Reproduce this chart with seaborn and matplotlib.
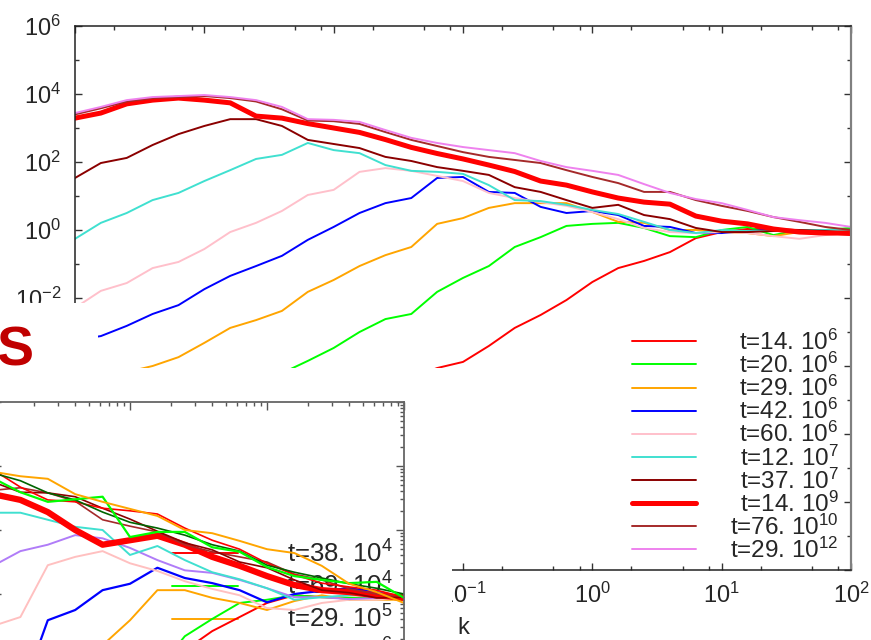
import numpy as np
import pandas as pd
import matplotlib
matplotlib.use("Agg")
import matplotlib.pyplot as plt
import matplotlib.ticker as mticker
from matplotlib.patches import Rectangle
import seaborn as sns

# ---------------- data (log10 values) ----------------
K_EXP = [-4.0, -3.8, -3.6, -3.4, -3.2, -3.0, -2.8, -2.6, -2.4, -2.2, -2.0,
         -1.8, -1.6, -1.4, -1.2, -1.0, -0.8, -0.6, -0.4, -0.2, 0.0,
         0.2, 0.4, 0.6, 0.8, 1.0, 1.2, 1.4, 1.6, 1.8, 2.0]

N = None
E_14E6 = [N, N, N, N, N, N, N, N, N, N, N, N, N, -4.35, -4.06, -3.88, -3.41,
          -2.88, -2.50, -2.06, -1.53, -1.12, -0.91, -0.65, -0.24, -0.06, 0.03,
          0.03, 0.0, -0.09, -0.15]
E_20E6 = [N, N, N, N, N, N, N, N, -4.21, -3.85, -3.47, -3.0, -2.62, -2.47,
          -1.82, -1.41, -1.06, -0.50, -0.21, 0.12, 0.18, 0.21, 0.06, -0.18,
          -0.21, 0.0, 0.09, -0.15, 0.0, 0.0, 0.06]
E_29E6 = [N, N, -4.18, -4.0, -3.74, -3.32, -2.88, -2.65, -2.38, -1.82, -1.47,
          -1.06, -0.74, -0.50, 0.18, 0.35, 0.65, 0.79, 0.79, 0.79, 0.53, 0.24,
          0.21, 0.0, 0.0, -0.06, -0.09, -0.18, -0.06, 0.0, 0.0]
E_42E6 = [-3.24, -3.12, -2.82, -2.47, -2.21, -1.74, -1.35, -1.06, -0.76, -0.29,
          0.09, 0.50, 0.79, 0.94, 1.53, 1.56, 1.12, 1.09, 0.68, 0.50, 0.56,
          0.44, 0.12, 0.09, -0.09, -0.09, -0.03, 0.0, 0.0, -0.06, -0.09]
E_60E6 = [-2.29, -1.79, -1.56, -1.12, -0.94, -0.56, -0.06, 0.21, 0.56, 1.03,
          1.18, 1.71, 1.82, 1.74, 1.59, 1.44, 1.09, 0.94, 0.82, 0.71, 0.53,
          0.32, 0.06, -0.06, -0.09, -0.06, -0.09, -0.18, -0.26, -0.15, -0.09]
E_12E7 = [-0.26, 0.21, 0.50, 0.88, 1.09, 1.44, 1.76, 2.09, 2.21, 2.56, 2.35,
          2.26, 1.91, 1.74, 1.71, 1.65, 1.32, 0.88, 0.85, 0.74, 0.59, 0.47,
          0.24, 0.0, -0.09, 0.0, -0.03, -0.03, 0.0, 0.0, 0.0]
E_37E7 = [1.53, 1.97, 2.12, 2.50, 2.82, 3.06, 3.26, 3.26, 3.06, 2.65, 2.53,
          2.41, 2.15, 2.03, 1.85, 1.74, 1.62, 1.26, 1.12, 0.88, 0.65, 0.74,
          0.44, 0.32, 0.06, -0.06, -0.06, -0.03, 0.0, -0.03, -0.09]
E_14E9 = [3.29, 3.44, 3.71, 3.82, 3.88, 3.82, 3.74, 3.35, 3.29, 3.13, 3.0,
          2.87, 2.66, 2.43, 2.25, 2.09, 1.91, 1.72, 1.44, 1.32, 1.12, 0.94,
          0.82, 0.76, 0.41, 0.26, 0.18, 0.03, -0.06, -0.09, -0.09]
E_76E10 = [3.40, 3.58, 3.78, 3.88, 3.91, 3.94, 3.88, 3.78, 3.55, 3.22, 3.20,
           3.12, 2.88, 2.65, 2.47, 2.29, 2.15, 2.06, 1.97, 1.76, 1.56, 1.38,
           1.12, 1.12, 0.88, 0.71, 0.56, 0.38, 0.24, 0.09, 0.0]
E_29E12 = [3.44, 3.62, 3.82, 3.91, 3.94, 3.97, 3.91, 3.82, 3.62, 3.26, 3.24,
           3.18, 2.94, 2.71, 2.56, 2.44, 2.35, 2.26, 2.03, 1.85, 1.74, 1.62,
           1.35, 1.09, 0.91, 0.79, 0.59, 0.38, 0.29, 0.21, 0.09]

MAIN_LABELS = ["t=14. $\\mathregular{10^{6}}$", "t=20. $\\mathregular{10^{6}}$",
               "t=29. $\\mathregular{10^{6}}$", "t=42. $\\mathregular{10^{6}}$",
               "t=60. $\\mathregular{10^{6}}$", "t=12. $\\mathregular{10^{7}}$",
               "t=37. $\\mathregular{10^{7}}$", "t=14. $\\mathregular{10^{9}}$",
               "t=76. $\\mathregular{10^{10}}$", "t=29. $\\mathregular{10^{12}}$"]
MAIN_SERIES = [E_14E6, E_20E6, E_29E6, E_42E6, E_60E6, E_12E7, E_37E7,
               E_14E9, E_76E10, E_29E12]
MAIN_COLORS = ["#ff0000", "#00ff00", "#ffa500", "#0000ff", "#ffc0cb",
               "#40e0d0", "#8b0000", "#ff0000", "#a52a2a", "#ee82ee"]
MAIN_WIDTHS = [1.4, 1.4, 1.4, 1.4, 1.4, 1.4, 1.4, 3.6, 1.4, 1.4]

# inset (second panel) data
KI_EXP = [-1.0, -0.8, -0.6, -0.4, -0.2, 0.0, 0.2, 0.4, 0.6, 0.8, 1.0,
          1.2, 1.4, 1.6, 1.8, 2.0]
I_RED_LOW = [N, N, N, N, N, N, N, -2.88, -2.58, -2.36, -2.14, -2.02, -2.05,
             -2.06, -2.06, -2.06]
I_GREEN_LOW = [N, N, N, N, N, N, -3.19, -2.66, -2.39, -2.14, -2.09, -2.02,
               -2.05, -2.06, -2.06, -2.06]
I_ORANGE_LOW = [N, N, N, -3.34, -2.80, -2.41, -1.94, -1.94, -2.06, -2.14,
                -2.25, -2.11, -2.02, -2.09, -2.09, -2.09]
I_BLUE = [N, -3.6, -2.41, -2.25, -1.94, -1.84, -1.59, -1.75, -1.83, -1.94,
          -2.13, -2.0, -1.95, -1.91, -1.97, -2.06]
I_PINK = [-2.5, -2.36, -1.55, -1.42, -1.33, -1.52, -1.64, -1.80, -1.92, -2.02,
          -2.22, -2.25, -2.14, -2.09, -2.09, -2.06]
I_PURPLE = [-1.56, -1.33, -1.23, -1.08, -1.13, -1.28, -1.47, -1.63, -1.67,
            -1.78, -1.91, -2.05, -2.05, -2.08, -2.06, -2.06]
I_CYAN = [-0.73, -0.73, -0.84, -0.95, -1.0, -1.39, -1.25, -1.47, -1.66, -1.77,
          -1.91, -2.09, -2.05, -2.02, -1.98, -2.06]
I_RED_THICK = [-0.44, -0.53, -0.72, -1.0, -1.23, -1.16, -1.09, -1.23, -1.42,
               -1.56, -1.72, -1.86, -1.94, -1.97, -2.02, -2.06]
I_BROWN = [-0.38, -0.34, -0.42, -0.55, -0.84, -0.94, -1.03, -1.23, -1.34,
           -1.42, -1.50, -1.69, -1.78, -1.92, -2.0, -2.05]
I_DARKRED = [-0.25, -0.41, -0.42, -0.48, -0.66, -0.83, -1.02, -1.20, -1.31,
             -1.50, -1.59, -1.78, -1.94, -1.98, -2.06, -2.05]
I_RED_UP = [-0.06, -0.33, -0.53, -0.56, -0.66, -0.70, -0.75, -0.97, -1.16,
            -1.30, -1.52, -1.70, -1.83, -1.89, -1.94, -2.05]
I_DARKGREEN = [-0.11, -0.23, -0.42, -0.53, -0.72, -0.88, -0.97, -1.08, -1.23,
               -1.33, -1.55, -1.66, -1.75, -1.84, -1.91, -2.0]
I_GREEN_UP = [-0.19, -0.41, -0.56, -0.52, -0.48, -1.11, -1.03, -1.03, -1.27,
              -1.34, -1.58, -1.72, -1.78, -1.83, -1.81, -2.06]
I_ORANGE_UP = [-0.09, -0.16, -0.20, -0.44, -0.56, -0.67, -0.78, -1.0, -1.05,
               -1.17, -1.30, -1.36, -1.56, -1.84, -1.97, -2.14]

INSET_SERIES = [I_RED_LOW, I_GREEN_LOW, I_ORANGE_LOW, I_BLUE, I_PINK,
                I_PURPLE, I_CYAN, I_RED_THICK, I_BROWN, I_DARKRED, I_RED_UP,
                I_DARKGREEN, I_GREEN_UP, I_ORANGE_UP]
INSET_LABELS = ["t=38. $\\mathregular{10^{4}}$", "t=69. $\\mathregular{10^{4}}$",
                "t=29. $\\mathregular{10^{5}}$", "t=16. $\\mathregular{10^{6}}$",
                None, None, None, None, None, None, None, None, None, None]
INSET_COLORS = ["#ff0000", "#00ff00", "#ffa500", "#0000ff", "#ffc0c0",
                "#b07cf8", "#40e0d0", "#ff0000", "#a52a2a", "#8b0000",
                "#ff0000", "#006400", "#00ff00", "#ffa500"]
INSET_WIDTHS = [1.4, 1.4, 1.4, 1.6, 1.4, 1.4, 1.4, 4.5, 1.2, 1.2, 1.2, 1.2,
                1.6, 1.4]

# ---------------- style ----------------
sns.set_style("ticks")
plt.rcParams["font.family"] = ["Liberation Sans", "DejaVu Sans"]
plt.rcParams["mathtext.fontset"] = "custom"
plt.rcParams["mathtext.rm"] = "Liberation Sans"
plt.rcParams["mathtext.it"] = "Liberation Sans:italic"
plt.rcParams["mathtext.bf"] = "Liberation Sans:bold"

W, H = 871, 640
fig = plt.figure(figsize=(W / 100, H / 100), dpi=100)
fig.patch.set_facecolor("white")


def draw_series(ax, kexp, eexp, color, lw, label):
    df = pd.DataFrame({
        "k": [10.0 ** a for a in kexp],
        "E": [np.nan if b is None else 10.0 ** b for b in eexp],
    }).dropna()
    sns.lineplot(data=df, x="k", y="E", ax=ax, color=color, lw=lw,
                 label=label if label else "_nolegend_", sort=False,
                 estimator=None)


# ---------------- main panel ----------------
ax = fig.add_axes([75 / W, 1 - 570 / H, 776 / W, 544 / H])
ax.set_zorder(1)
ax.set_xscale("log")
ax.set_yscale("log")
ax.set_xlim(1e-4, 1e2)
ax.set_ylim(1e-10, 1e6)

for ser, col, lw, lab in zip(MAIN_SERIES, MAIN_COLORS, MAIN_WIDTHS, MAIN_LABELS):
    draw_series(ax, K_EXP, ser, col, lw, lab)

ax.xaxis.set_major_locator(mticker.LogLocator(base=10, numticks=20))
ax.xaxis.set_minor_locator(mticker.LogLocator(base=10, subs=(2.0, 5.0, 8.0), numticks=20))
ax.xaxis.set_minor_formatter(mticker.NullFormatter())
ax.yaxis.set_major_locator(mticker.LogLocator(base=100, numticks=20))
ax.yaxis.set_major_formatter(mticker.LogFormatterSciNotation(base=10))
ax.yaxis.set_minor_locator(mticker.LogLocator(base=100, subs=(10.0,), numticks=20))
ax.yaxis.set_minor_formatter(mticker.NullFormatter())

ax.tick_params(which="both", direction="in", top=True, right=True,
               color="#333333", width=1.0)
ax.tick_params(which="major", length=5.2)
ax.tick_params(which="minor", length=3.0)
ax.tick_params(axis="x", which="major", pad=9, labelsize=17)
ax.tick_params(axis="y", which="major", pad=10, labelsize=17)
for side in ["left", "top", "bottom"]:
    ax.spines[side].set_color("#222222")
    ax.spines[side].set_linewidth(1.1)
ax.spines["right"].set_color("#808080")
ax.spines["right"].set_linewidth(1.6)
ax.set_ylabel("")
ax.set_xlabel("k", fontsize=17, labelpad=7)

leg = ax.legend(loc="upper left", bbox_to_anchor=(0.7178, 0.442),
                frameon=False, fontsize=17.5, handlelength=2.63,
                handletextpad=1.4, labelspacing=-0.085, borderpad=0,
                borderaxespad=0)

# ---------------- covering white areas + title letter ----------------
fig.add_artist(Rectangle((0, 1 - 368 / H), 98 / W, 65 / H, transform=fig.transFigure,
                         facecolor="white", edgecolor="none", zorder=2))
fig.add_artist(Rectangle((0, 0), 452 / W, 1 - 368 / H, transform=fig.transFigure,
                         facecolor="white", edgecolor="none", zorder=2))
fig.text(33 / W, 1 - 366 / H, "S", ha="right", va="baseline", fontsize=40,
         fontweight="bold", color="#c00000", zorder=4)

# ---------------- inset panel ----------------
axi = fig.add_axes([-7 / W, 1 - 690 / H, 411 / W, 288 / H])
axi.set_zorder(3)
axi.set_xscale("log")
axi.set_yscale("log")
axi.set_xlim(10 ** -1.0, 1e2)
axi.set_ylim(10 ** -3.5, 10 ** 1.0)
for ser, col, lw, lab in zip(INSET_SERIES, INSET_COLORS, INSET_WIDTHS, INSET_LABELS):
    draw_series(axi, KI_EXP, ser, col, lw, lab)
axi.xaxis.set_major_locator(mticker.LogLocator(base=10, numticks=20))
axi.xaxis.set_minor_locator(mticker.LogLocator(base=10, subs=np.arange(2, 10), numticks=20))
axi.yaxis.set_major_locator(mticker.LogLocator(base=10, numticks=20))
axi.yaxis.set_minor_locator(mticker.LogLocator(base=10, subs=np.arange(2, 10), numticks=20))
axi.tick_params(which="both", direction="in", top=True, right=True,
                labelleft=False, labelbottom=False, color="#555555", width=1.0)
axi.tick_params(which="major", length=5.5)
axi.tick_params(which="minor", length=2.6)
for side in axi.spines:
    axi.spines[side].set_color("#666666")
    axi.spines[side].set_linewidth(1.3)
axi.set_xlabel("")
axi.set_ylabel("")
legi = axi.legend(loc="upper left", bbox_to_anchor=(0.4355, 0.52),
                  frameon=False, fontsize=18.5, handlelength=2.57,
                  handletextpad=1.9, labelspacing=0.21, borderpad=0,
                  borderaxespad=0)
legi.set_zorder(1)

# right-align main legend texts (gnuplot style key)
fig.canvas.draw()
rend = fig.canvas.get_renderer()
texts = leg.get_texts()
widths = [t.get_window_extent(rend).width for t in texts]
mw = max(widths)
for t, w in zip(texts, widths):
    t.set_position((mw - w, 0))

fig.savefig("out.png", dpi=100, facecolor="white")
